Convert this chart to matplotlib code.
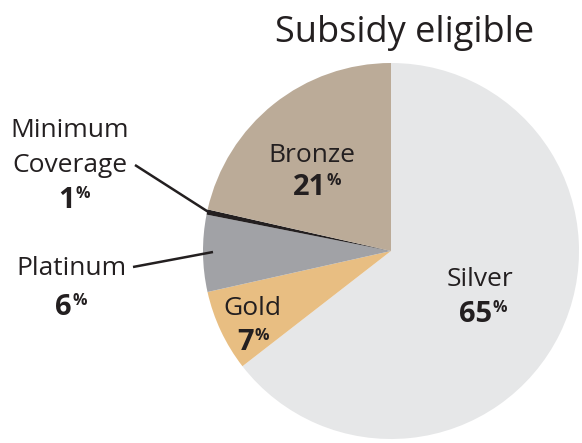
import matplotlib
matplotlib.use("Agg")
import matplotlib.pyplot as plt

# Data
categories = ["Silver", "Gold", "Platinum", "Minimum Coverage", "Bronze"]
shares = [64.5, 7.0, 6.6, 0.45, 21.45]          # wedge sizes as measured
pct_labels = ["65", "7", "6", "1", "21"]          # printed percentages
title = "Subsidy eligible"

colors = ["#e6e7e8", "#e8be82", "#a1a2a6", "#231f20", "#bbab98"]
txt = "#231f20"
FONT = ["Open Sans", "DejaVu Sans"]

W, H = 582, 443
fig = plt.figure(figsize=(W / 100, H / 100), dpi=100)
ax = fig.add_axes([0, 0, 1, 1])

def Y(py):
    return H - py

cx, cy, r = 391, Y(251), 188
ax.pie(shares, colors=colors, startangle=90, counterclock=False,
       center=(cx, cy), radius=r, wedgeprops=dict(linewidth=0), frame=True)
ax.set_xlim(0, W)
ax.set_ylim(0, H)
ax.set_aspect("equal")
ax.axis("off")

renderer = fig.canvas.get_renderer()

ax.text(405, Y(42), title, ha="center", va="baseline", fontsize=26,
        color=txt, family=FONT)

def pct(xc, base, s, size=21, psize=11.5, raise_px=10):
    t1 = ax.text(0, Y(base), s, ha="left", va="baseline", fontsize=size,
                 fontweight="bold", color=txt, family=FONT)
    t2 = ax.text(0, Y(base - raise_px), "%", ha="left", va="baseline",
                 fontsize=psize, fontweight="bold", color=txt, family=FONT)
    w1 = t1.get_window_extent(renderer).width
    w2 = t2.get_window_extent(renderer).width
    gap = 1
    x0 = xc - (w1 + gap + w2) / 2
    t1.set_x(x0)
    t2.set_x(x0 + w1 + gap)

def name(x, base, s, size=19):
    ax.text(x, Y(base), s, ha="center", va="baseline", fontsize=size,
            color=txt, family=FONT)

# Inside labels
name(312, 162, categories[4]); pct(317, 195, pct_labels[4])
name(480, 286, categories[0]); pct(483, 322, pct_labels[0])
name(252, 315, categories[1]); pct(253, 350, pct_labels[1])

# Outside labels
name(70, 137, "Minimum"); name(70, 172, "Coverage"); pct(74, 208, pct_labels[3])
name(71, 275, categories[2]); pct(71, 315, pct_labels[2])

ax.plot([135, 210], [Y(165), Y(213)], color=txt, lw=1.8, solid_capstyle="butt")
ax.plot([133, 213], [Y(267), Y(252)], color=txt, lw=1.8, solid_capstyle="butt")

fig.savefig("out.png", dpi=100)
